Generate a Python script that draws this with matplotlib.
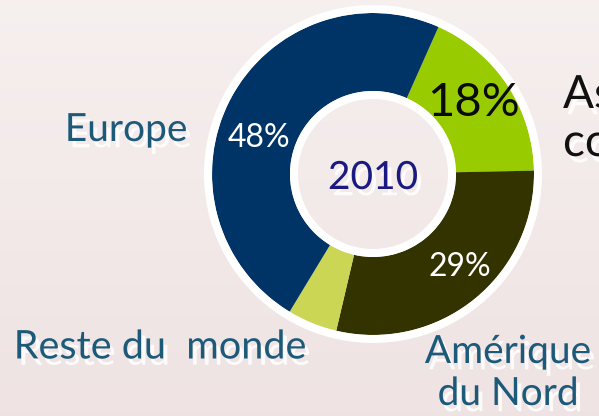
import numpy as np
import matplotlib
matplotlib.use("Agg")
import matplotlib.pyplot as plt
from matplotlib.patches import Wedge
import matplotlib.patheffects as pe

# ---- data ----
regions = ["Asie", "Amérique du Nord", "Reste du monde", "Europe"]
shares = [18, 29, 5, 48]
colors = ["#99CC00", "#333300", "#CCD655", "#003366"]
year = "2010"

W, H = 599, 416
fig = plt.figure(figsize=(W / 100, H / 100), dpi=100)
ax = fig.add_axes([0, 0, 1, 1])

# background gradient
grad = np.linspace(0, 1, 256)[:, None]
top = np.array([0.965, 0.940, 0.937])
bot = np.array([0.937, 0.890, 0.890])
img = top[None, None, :] * (1 - grad[..., None]) + bot[None, None, :] * grad[..., None]
img = np.repeat(img, 2, axis=1)
ax.imshow(img, extent=[0, W, 0, H], aspect="auto", zorder=0)

cx, cy = 373, H - 174
R, r_in = 161, 83

wedges, _ = ax.pie(shares, colors=colors, startangle=66, counterclock=False,
                   center=(cx, cy), radius=R,
                   wedgeprops=dict(width=R - r_in, linewidth=0), frame=True)
for w in wedges:
    w.set_zorder(2)

# white rings
ax.add_patch(Wedge((cx, cy), R + 8, 0, 360, width=8, facecolor="white", lw=0, zorder=3))
ax.add_patch(Wedge((cx, cy), r_in, 0, 360, width=8, facecolor="white", lw=0, zorder=3))

ax.set_xlim(0, W)
ax.set_ylim(0, H)
ax.set_aspect("auto")
ax.axis("off")

FONT = ["Lato", "DejaVu Sans"]
teal = "#1D5A7A"
shadow = [pe.SimplePatchShadow(offset=(3, -4.5), shadow_rgbFace="white", alpha=0.85), pe.Normal()]

def txt(x, y, s, size, color, ha="center", fx=shadow, weight="normal"):
    ax.text(x, H - y, s, fontsize=size, color=color, ha=ha, va="center",
            family=FONT, fontweight=weight, path_effects=fx, zorder=5)

# outer labels
txt(126, 130, "Europe", 28, teal)
txt(160, 347, "Reste du  monde", 28.5, teal)
txt(508, 352, "Amérique", 28, teal)
txt(508, 394, "du Nord", 28, teal)
txt(563, 95, "Asie", 33, "#111111", ha="left")
txt(563, 143, "continentale", 33, "#111111", ha="left")

# percentages
txt(259, 138, "48%", 23, "white", fx=None)
txt(474, 103, "18%", 34, "#0A0A0A", fx=None)
txt(460, 267, "29%", 23, "white", fx=None)

# center year
txt(373, 178, year, 28, "#1A1A80")

fig.savefig("out.png", dpi=100)
